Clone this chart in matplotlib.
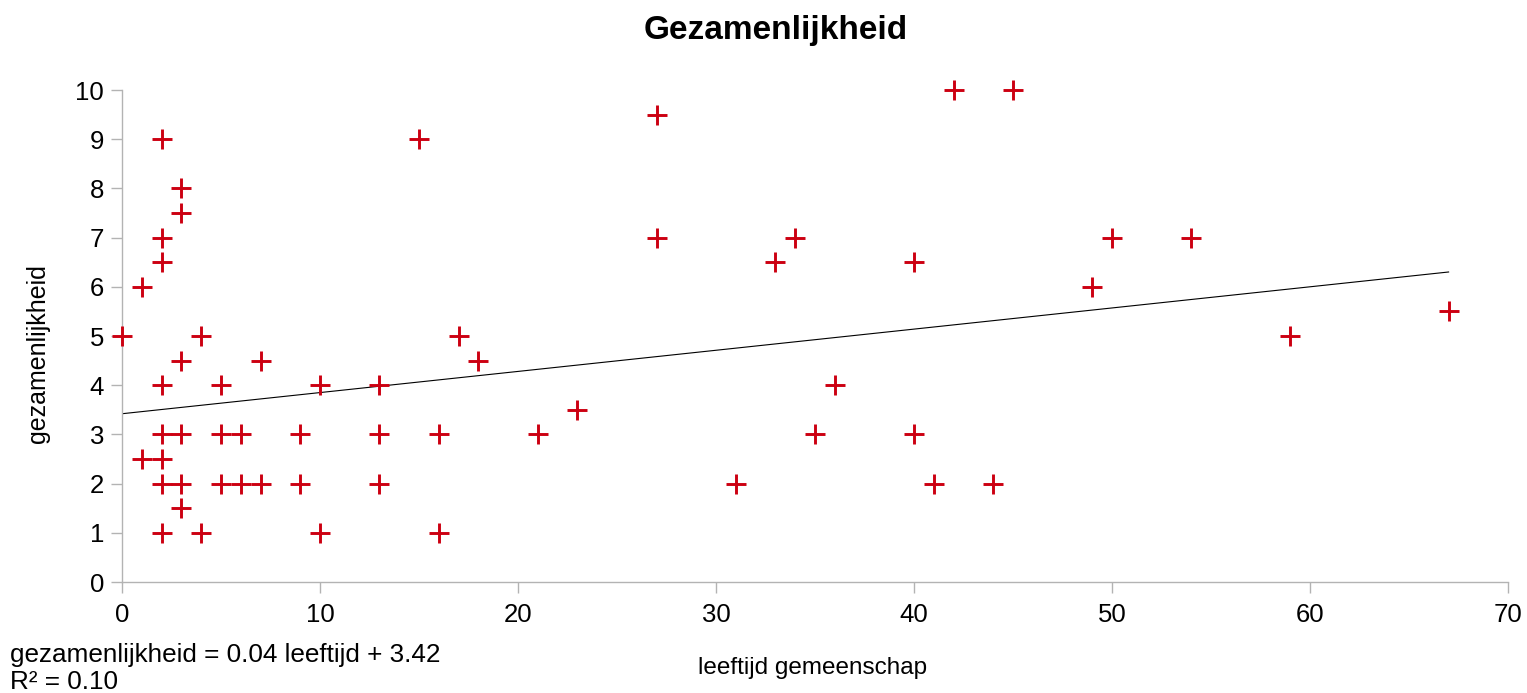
import matplotlib
matplotlib.use("Agg")
import matplotlib.pyplot as plt
import numpy as np

plt.rcParams['font.family'] = ['Liberation Sans', 'DejaVu Sans']

leeftijd = [0, 1, 1, 2, 2, 2, 2, 2, 2, 2, 2, 3, 3, 3, 3, 3, 3, 4, 4, 5, 5, 5,
            6, 6, 7, 7, 9, 9, 10, 10, 13, 13, 13, 15, 16, 16, 17, 18, 21, 23,
            27, 27, 31, 33, 34, 35, 36, 40, 40, 41, 42, 44, 45, 49, 50, 54, 59, 67]
gezamenlijkheid = [5, 6, 2.5, 9, 7, 6.5, 4, 3, 2.5, 2, 1, 8, 7.5, 4.5, 3, 2, 1.5, 5, 1, 4, 3, 2,
                   3, 2, 4.5, 2, 3, 2, 4, 1, 4, 3, 2, 9, 3, 1, 5, 4.5, 3, 3.5,
                   9.5, 7, 2, 6.5, 7, 3, 4, 6.5, 3, 2, 10, 2, 10, 6, 7, 7, 5, 5.5]

trend_slope = 0.043
trend_intercept = 3.42
equation_text = "gezamenlijkheid = 0.04 leeftijd + 3.42"
r2_text = "R² = 0.10"

title = "Gezamenlijkheid"
xlabel = "leeftijd gemeenschap"
ylabel = "gezamenlijkheid"
xticks = [0, 10, 20, 30, 40, 50, 60, 70]
yticks = list(range(0, 11))

fig = plt.figure(figsize=(15.27, 6.93), dpi=100)
ax = fig.add_axes([122/1527, 1-582/693, (1508-122)/1527, (582-90)/693])

grey = '#b3b3b3'
red = '#cc0011'

ax.plot(leeftijd, gezamenlijkheid, linestyle='none', marker='+', markersize=15,
        markeredgewidth=2.1, color=red, clip_on=False, zorder=3)

xs = np.array([min(leeftijd), max(leeftijd)])
ax.plot(xs, trend_slope * xs + trend_intercept, color='black', linewidth=0.8, zorder=2)

ax.set_xlim(0, 70)
ax.set_ylim(0, 10)
ax.set_xticks(xticks)
ax.set_yticks(yticks)
for s in ['top', 'right']:
    ax.spines[s].set_visible(False)
for s in ['left', 'bottom']:
    ax.spines[s].set_color(grey)
    ax.spines[s].set_linewidth(1.0)
ax.tick_params(axis='both', colors=grey, labelcolor='black', labelsize=18.5,
               length=8, width=1.0, direction='out')
ax.tick_params(axis='x', pad=7)
ax.tick_params(axis='y', pad=5)

fig.text(776/1527, 1-30/693, title, ha='center', va='center', fontsize=24, fontweight='bold')
fig.text(813/1527, 1-668/693, xlabel, ha='center', va='center', fontsize=17.5)
fig.text(38/1527, 1-354/693, ylabel, ha='center', va='center', rotation=90, fontsize=18)
fig.text(10/1527, 1-655/693, equation_text, ha='left', va='center', fontsize=18.8)
fig.text(10/1527, 1-682/693, r2_text, ha='left', va='center', fontsize=18.8)

fig.savefig('out.png', dpi=100)
